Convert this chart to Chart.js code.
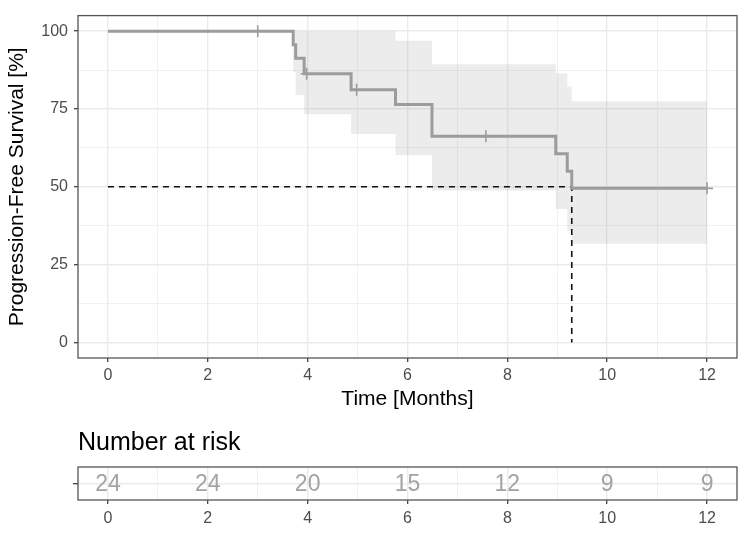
<!DOCTYPE html>
<html>
<head>
<meta charset="utf-8">
<script src="https://cdn.jsdelivr.net/npm/chart.js@4.4.1/dist/chart.umd.min.js"></script>
<style>
  body { margin: 0; background: #fff; }
  #wrap { position: relative; width: 750px; height: 533px; }
  #km { position: absolute; left: 0; top: 0; }
  #risk { position: absolute; left: 0; top: 425px; }
</style>
</head>
<body>
<div id="wrap">
  <canvas id="km" width="750" height="420"></canvas>
  <canvas id="risk" width="750" height="108"></canvas>
</div>
<script>
// --- data ---
const kmTime = [0, 3.71, 3.76, 3.93, 4.87, 5.76, 6.49, 8.97, 9.2, 9.29, 12];
const kmSurv = [100, 95.6, 91.3, 86.3, 81.2, 76.4, 66.2, 60.6, 55.0, 49.5, 49.5];

const bandTime = [0, 3.71, 3.76, 3.93, 4.87, 5.76, 6.49, 8.97, 9.2, 9.29, 12];
const bandUpper = [100, 100, 100, 100, 100, 96.9, 89.4, 86.5, 82.2, 77.5, 77.5];
const bandLower = [100, 87, 79.5, 73.3, 67, 60.2, 48.8, 42.9, 36, 31.7, 31.7];

const censorTime = [3, 3.98, 4.98, 7.57, 12];
const censorSurv = [100, 86.3, 81.2, 66.2, 49.5];

const medianTime = 9.29;
const medianSurv = 50;

const riskTime = [0, 2, 4, 6, 8, 10, 12];
const riskCount = [24, 24, 20, 15, 12, 9, 9];

const xMajor = [0, 2, 4, 6, 8, 10, 12];
const yMajor = [0, 25, 50, 75, 100];

// --- styling ---
const fontFamily = "'Liberation Sans', Arial, Helvetica, sans-serif";
const colors = {
  curve: '#9c9c9c',
  band: 'rgba(150, 150, 150, 0.18)',
  grid: '#ebebeb',
  tick: '#333333',
  tickLabel: '#4d4d4d',
  border: '#555555',
  risk: '#a3a3a3',
};

const pts = (xs, ys) => xs.map((x, i) => ({ x, y: ys[i] }));

// major ticks plus the minor ones halfway between
function withMinor(major) {
  const out = [];
  major.forEach((v, i) => {
    out.push(v);
    if (i < major.length - 1) out.push((v + major[i + 1]) / 2);
  });
  return out;
}

function gridFor(major) {
  return {
    color: colors.grid,
    lineWidth: (c) => (major.includes(c.tick && c.tick.value) ? 1.4 : 0.7),
    tickColor: (c) => (major.includes(c.tick && c.tick.value) ? colors.tick : 'rgba(0,0,0,0)'),
    tickWidth: 1.2,
    tickLength: 4,
  };
}

const panelBorder = {
  id: 'panelBorder',
  afterDraw(chart) {
    const { ctx, chartArea: a } = chart;
    ctx.save();
    ctx.strokeStyle = colors.border;
    ctx.lineWidth = 1.3;
    ctx.strokeRect(a.left, a.top, a.right - a.left, a.bottom - a.top);
    ctx.restore();
  },
};

const xScale = (height, pad) => ({
  type: 'linear',
  min: -0.6,
  max: 12.6,
  afterBuildTicks: (s) => { s.ticks = withMinor(xMajor).map((value) => ({ value })); },
  afterFit: (s) => { s.height = height; },
  border: { display: false },
  grid: gridFor(xMajor),
  ticks: {
    autoSkip: false,
    maxRotation: 0,
    padding: pad,
    color: colors.tickLabel,
    font: { family: fontFamily, size: 16 },
    callback: (v) => (xMajor.includes(v) ? String(v) : ''),
  },
});

// --- survival curve ---
new Chart(document.getElementById('km'), {
  type: 'line',
  data: {
    datasets: [
      {
        data: pts(bandTime, bandUpper),
        stepped: 'before',
        borderWidth: 0,
        pointRadius: 0,
        backgroundColor: colors.band,
        fill: '+1',
        order: 5,
      },
      {
        data: pts(bandTime, bandLower),
        stepped: 'before',
        borderWidth: 0,
        pointRadius: 0,
        fill: false,
        order: 5,
      },
      {
        data: [{ x: 0, y: medianSurv }, { x: medianTime, y: medianSurv }, { x: medianTime, y: 0 }],
        borderColor: '#111',
        borderWidth: 1.6,
        borderDash: [6, 5],
        pointRadius: 0,
        fill: false,
        order: 3,
      },
      {
        data: pts(kmTime, kmSurv),
        stepped: 'before',
        borderColor: colors.curve,
        borderWidth: 3,
        pointRadius: 0,
        fill: false,
        order: 2,
      },
      {
        data: pts(censorTime, censorSurv),
        showLine: false,
        pointStyle: 'cross',
        pointRadius: 6,
        borderColor: colors.curve,
        borderWidth: 1.6,
        order: 1,
      },
    ],
  },
  options: {
    responsive: false,
    animation: false,
    layout: { padding: { top: 9, right: 13, left: 0, bottom: 0 } },
    plugins: { legend: { display: false }, tooltip: { enabled: false } },
    scales: {
      x: {
        ...xScale(62, 4),
        title: {
          display: true,
          text: 'Time [Months]',
          color: '#000',
          font: { family: fontFamily, size: 21 },
          padding: { top: 0, bottom: 8 },
        },
      },
      y: {
        type: 'linear',
        min: -5,
        max: 105,
        afterBuildTicks: (s) => { s.ticks = withMinor(yMajor).map((value) => ({ value })); },
        afterFit: (s) => { s.width = 78; },
        border: { display: false },
        grid: gridFor(yMajor),
        ticks: {
          autoSkip: false,
          padding: 6,
          color: colors.tickLabel,
          font: { family: fontFamily, size: 16 },
          callback: (v) => (yMajor.includes(v) ? String(v) : ''),
        },
        title: {
          display: true,
          text: 'Progression-Free Survival [%]',
          color: '#000',
          font: { family: fontFamily, size: 21 },
          padding: { top: 5, bottom: 0 },
        },
      },
    },
  },
  plugins: [panelBorder],
});

// --- number at risk table ---
const riskLabels = {
  id: 'riskLabels',
  afterDatasetsDraw(chart) {
    const { ctx } = chart;
    const meta = chart.getDatasetMeta(0);
    ctx.save();
    ctx.fillStyle = colors.risk;
    ctx.font = `23px ${fontFamily}`;
    ctx.textAlign = 'center';
    ctx.textBaseline = 'middle';
    meta.data.forEach((el, i) => ctx.fillText(String(riskCount[i]), el.x, el.y + 1));
    ctx.restore();
  },
};

new Chart(document.getElementById('risk'), {
  type: 'scatter',
  data: {
    datasets: [{ data: riskTime.map((x) => ({ x, y: 0 })), pointRadius: 0 }],
  },
  options: {
    responsive: false,
    animation: false,
    layout: { padding: { top: 0, right: 13, left: 0, bottom: 0 } },
    plugins: {
      legend: { display: false },
      tooltip: { enabled: false },
      title: {
        display: true,
        text: 'Number at risk',
        align: 'start',
        fullSize: false,
        color: '#000',
        font: { family: fontFamily, size: 25, weight: 'normal' },
        padding: { top: 3, bottom: 9 },
      },
    },
    scales: {
      x: xScale(33, 5),
      y: {
        type: 'linear',
        min: -1,
        max: 1,
        afterBuildTicks: (s) => { s.ticks = [{ value: 0 }]; },
        afterFit: (s) => { s.width = 78; },
        border: { display: false },
        grid: { ...gridFor([0]), tickLength: 5 },
        ticks: { callback: () => '' },
      },
    },
  },
  plugins: [riskLabels, panelBorder],
});
</script>
</body>
</html>
